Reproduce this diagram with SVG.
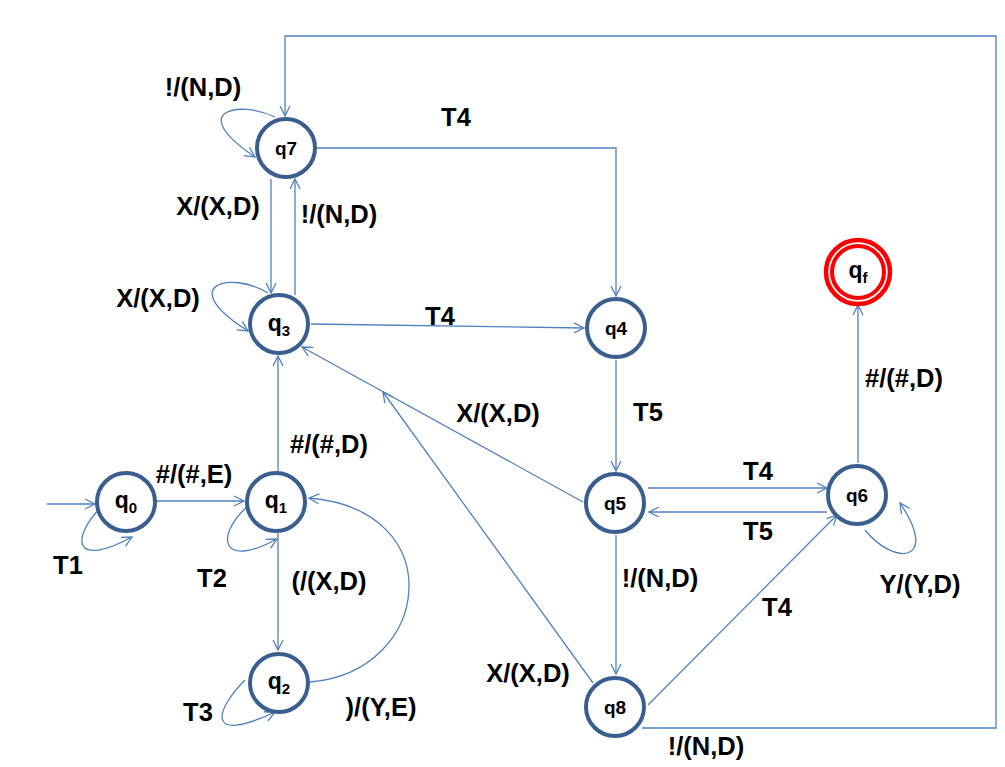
<svg xmlns="http://www.w3.org/2000/svg" width="1005" height="767" viewBox="0 0 1005 767">
<style>
.n{fill:#fff;stroke:#3a5f8f;stroke-width:4}
.f{fill:none;stroke:#ff0000}
.c{fill:none;stroke:#4f81bd;stroke-width:1.3}
.lbl{font-family:"Liberation Sans",Arial,sans-serif;font-weight:bold;font-size:25.5px;fill:#000;text-anchor:middle}
.nl{font-family:"Liberation Sans",Arial,sans-serif;font-weight:bold;font-size:19px;fill:#000;text-anchor:middle}
.nq{font-family:"Liberation Sans",Arial,sans-serif;font-weight:bold;font-size:23px;fill:#000;text-anchor:middle}
.sub{font-size:15px}
</style>
<defs>
<marker id="a" viewBox="0 0 12 12" refX="11" refY="6" markerWidth="12" markerHeight="12" markerUnits="userSpaceOnUse" orient="auto">
<path d="M1,1 L11,6 L1,11" fill="none" stroke="#4f81bd" stroke-width="1.3"/>
</marker>
</defs>
<rect width="1005" height="767" fill="#fff"/>
<g id="connectors">
<path class="c" d="M47,504 L95,504" marker-end="url(#a)"/>
<path class="c" d="M157,501 L244,501" marker-end="url(#a)"/>
<path class="c" d="M100,508 C70,540 75,568 132,537" marker-end="url(#a)"/>
<path class="c" d="M248,506 C215,535 220,570 277,539" marker-end="url(#a)"/>
<path class="c" d="M278,471 L278,356" marker-end="url(#a)"/>
<path class="c" d="M278,533 L278,650" marker-end="url(#a)"/>
<path class="c" d="M310,682 C432,672 452,510 309,498" marker-end="url(#a)"/>
<path class="c" d="M245,680 C215,710 205,745 275,712" marker-end="url(#a)"/>
<path class="c" d="M268,293 C230,270 175,285 248,331" marker-end="url(#a)"/>
<path class="c" d="M275,117 C240,100 185,110 255,157" marker-end="url(#a)"/>
<path class="c" d="M271,179 L271,293" marker-end="url(#a)"/>
<path class="c" d="M295,295 L295,179" marker-end="url(#a)"/>
<path class="c" d="M317,148 L616,148 L616,296" marker-end="url(#a)"/>
<path class="c" d="M311,324 L584,328" marker-end="url(#a)"/>
<path class="c" d="M616,360 L616,471" marker-end="url(#a)"/>
<path class="c" d="M583,502 L302,347" marker-end="url(#a)"/>
<path class="c" d="M593,683 L383,392" marker-end="url(#a)"/>
<path class="c" d="M648,488 L827,488" marker-end="url(#a)"/>
<path class="c" d="M827,512 L649,512" marker-end="url(#a)"/>
<path class="c" d="M616,535 L616,674" marker-end="url(#a)"/>
<path class="c" d="M648,705 L837,515" marker-end="url(#a)"/>
<path class="c" d="M865,530 C895,567 940,562 900,503" marker-end="url(#a)"/>
<path class="c" d="M858,463 L858,305" marker-end="url(#a)"/>
<path class="c" d="M642,728 L996,728 L996,36 L285,36 L285,116" marker-end="url(#a)"/>
</g>
<g id="labels">
<text class="lbl" x="203" y="96">!/(N,D)</text>
<text class="lbl" x="218" y="215">X/(X,D)</text>
<text class="lbl" x="339" y="223">!/(N,D)</text>
<text class="lbl" x="456" y="126">T4</text>
<text class="lbl" x="158" y="307">X/(X,D)</text>
<text class="lbl" x="440" y="325">T4</text>
<text class="lbl" x="498" y="422">X/(X,D)</text>
<text class="lbl" x="648" y="421">T5</text>
<text class="lbl" x="329" y="453">#/(#,D)</text>
<text class="lbl" x="194" y="483">#/(#,E)</text>
<text class="lbl" x="68" y="574">T1</text>
<text class="lbl" x="212" y="587">T2</text>
<text class="lbl" x="329" y="590">(/(X,D)</text>
<text class="lbl" x="198" y="721">T3</text>
<text class="lbl" x="381" y="716">)/(Y,E)</text>
<text class="lbl" x="528" y="682">X/(X,D)</text>
<text class="lbl" x="706" y="755">!/(N,D)</text>
<text class="lbl" x="758" y="480">T4</text>
<text class="lbl" x="758" y="540">T5</text>
<text class="lbl" x="660" y="587">!/(N,D)</text>
<text class="lbl" x="920" y="593">Y/(Y,D)</text>
<text class="lbl" x="777" y="616">T4</text>
<text class="lbl" x="904" y="387">#/(#,D)</text>
</g>
<g id="q7"><circle class="n" cx="286" cy="148" r="29"/><text class="nl" x="286" y="155">q7</text></g>
<g id="q3"><circle class="n" cx="279" cy="324" r="29"/><text class="nq" x="279" y="331">q<tspan class="sub" dy="5">3</tspan></text></g>
<g id="q0"><circle class="n" cx="126" cy="502" r="29"/><text class="nq" x="126" y="508">q<tspan class="sub" dy="5">0</tspan></text></g>
<g id="q1"><circle class="n" cx="276" cy="502" r="29"/><text class="nq" x="276" y="508">q<tspan class="sub" dy="5">1</tspan></text></g>
<g id="q2"><circle class="n" cx="279" cy="683" r="29"/><text class="nq" x="279" y="689">q<tspan class="sub" dy="5">2</tspan></text></g>
<g id="q4"><circle class="n" cx="616" cy="328" r="29"/><text class="nl" x="616" y="335">q4</text></g>
<g id="q5"><circle class="n" cx="615" cy="503" r="29"/><text class="nl" x="615" y="510">q5</text></g>
<g id="q6"><circle class="n" cx="857" cy="495" r="29"/><text class="nl" x="857" y="502">q6</text></g>
<g id="q8"><circle class="n" cx="615" cy="707" r="29"/><text class="nl" x="615" y="714">q8</text></g>
<g id="qf"><circle class="f" cx="858" cy="272" r="32" stroke-width="4.5" fill="#fff"/><circle class="f" cx="858" cy="272" r="26" stroke-width="4"/><text class="nq" x="858" y="278">q<tspan class="sub" dy="5">f</tspan></text></g>
</svg>
